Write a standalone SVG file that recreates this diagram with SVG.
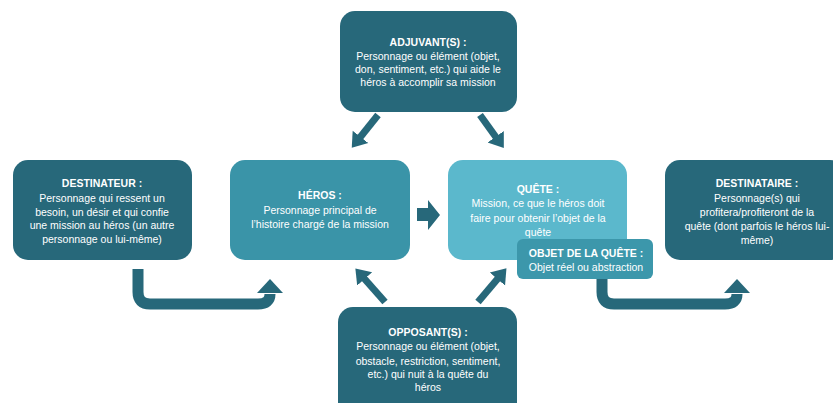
<svg xmlns="http://www.w3.org/2000/svg" width="833" height="403" viewBox="0 0 833 403">
<style>
.dark{fill:#27687a}
.mid{fill:#3a94a8}
.light{fill:#5bb8cc}
.obj{fill:#3c97ab}
text{font-family:"Liberation Sans",Arial,sans-serif;font-size:10.5px;fill:#fff;text-anchor:middle}
.t{font-weight:bold}
.con{stroke:#27687a;fill:none}
.head{fill:#27687a}
</style>
<defs>
<marker id="ah" markerUnits="userSpaceOnUse" markerWidth="22" markerHeight="22" refX="4" refY="11" orient="auto">
<path d="M0,1 L14,11 L0,21 Z" fill="#27687a"/>
</marker>
</defs>
<rect width="833" height="403" fill="#fff"/>
<g id="connectors">
<line class="con" stroke-width="7" x1="378" y1="115" x2="358" y2="140" marker-end="url(#ah)"/>
<line class="con" stroke-width="7" x1="480" y1="115" x2="498" y2="140" marker-end="url(#ah)"/>
<line class="con" stroke-width="7" x1="385" y1="302" x2="362" y2="276" marker-end="url(#ah)"/>
<line class="con" stroke-width="7" x1="478" y1="302" x2="500" y2="276" marker-end="url(#ah)"/>
<path class="head" d="M417,208 H428 V200 L440,215 L428,230 V221 H417 Z"/>
<path class="con" stroke-width="11" d="M138,269 V292 Q138,304 150,304 H258 Q270,304 270,294"/>
<path class="head" d="M257,293 L270,279 L283,293 Z"/>
<path class="con" stroke-width="11" d="M602,279 V292 Q602,304 614,304 H725 Q737,304 737,294"/>
<path class="head" d="M724,293 L737,279 L750,293 Z"/>
</g>
<g id="adjuvant">
<rect class="dark" x="340" y="11" width="177" height="101" rx="15"/>
<text class="t" x="428" y="46">ADJUVANT(S) :</text>
<text x="428" y="60">Personnage ou élément (objet,</text>
<text x="428" y="73">don, sentiment, etc.) qui aide le</text>
<text x="428" y="86">héros à accomplir sa mission</text>
</g>
<g id="destinateur">
<rect class="dark" x="13" y="160" width="179" height="100" rx="15"/>
<text class="t" x="102" y="187">DESTINATEUR :</text>
<text x="102" y="202">Personnage qui ressent un</text>
<text x="102" y="216">besoin, un désir et qui confie</text>
<text x="102" y="229">une mission au héros (un autre</text>
<text x="102" y="243">personnage ou lui-même)</text>
</g>
<g id="heros">
<rect class="mid" x="230" y="160" width="180" height="100" rx="15"/>
<text class="t" x="320" y="199">HÉROS :</text>
<text x="320" y="214">Personnage principal de</text>
<text x="320" y="228">l’histoire chargé de la mission</text>
</g>
<g id="quete">
<rect class="light" x="448" y="160" width="179" height="100" rx="15"/>
<text class="t" x="538" y="193">QUÊTE :</text>
<text x="538" y="207">Mission, ce que le héros doit</text>
<text x="538" y="222">faire pour obtenir l’objet de la</text>
<text x="538" y="236">quête</text>
</g>
<g id="objet">
<rect class="obj" x="517" y="239" width="136" height="40" rx="6"/>
<text class="t" x="586" y="257">OBJET DE LA QUÊTE :</text>
<text x="586" y="271">Objet réel ou abstraction</text>
</g>
<g id="destinataire">
<rect class="dark" x="665" y="160" width="180" height="100" rx="15"/>
<text class="t" x="757" y="187">DESTINATAIRE :</text>
<text x="757" y="202">Personnage(s) qui</text>
<text x="757" y="216">profitera/profiteront de la</text>
<text x="757" y="230">quête (dont parfois le héros lui-</text>
<text x="757" y="244">même)</text>
</g>
<g id="opposant">
<rect class="dark" x="338" y="307" width="179" height="110" rx="15"/>
<text class="t" x="428" y="336">OPPOSANT(S) :</text>
<text x="428" y="350">Personnage ou élément (objet,</text>
<text x="428" y="365">obstacle, restriction, sentiment,</text>
<text x="428" y="378">etc.) qui nuit à la quête du</text>
<text x="428" y="391">héros</text>
</g>
</svg>
